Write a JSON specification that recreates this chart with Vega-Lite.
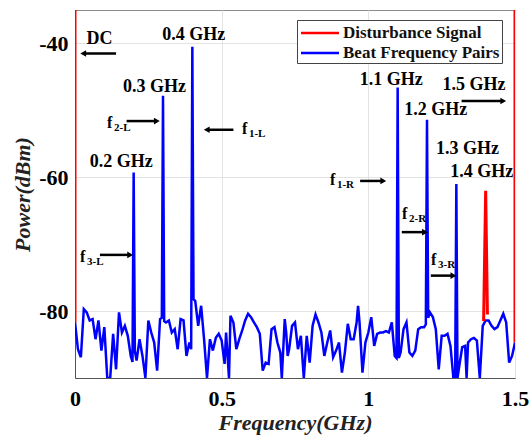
{
  "$schema": "https://vega.github.io/schema/vega-lite/v6.json",
  "width": 440,
  "height": 368,
  "autosize": "none",
  "padding": {"left": 75, "top": 10, "right": 15, "bottom": 63},
  "background": "white",
  "config": {
    "view": {"stroke": "#8c8c8c", "strokeWidth": 1},
    "font": "Liberation Serif",
    "axis": {
      "labelFont": "Liberation Serif", "labelFontWeight": "bold", "labelFontSize": 22, "labelColor": "#000",
      "titleFont": "Liberation Serif", "titleFontWeight": "bold", "titleFontStyle": "italic", "titleFontSize": 22, "titleColor": "#222",
      "domainColor": "#555", "gridColor": "#e3e3e3", "ticks": false, "labelFlush": false
    },
    "legend": {
      "orient": "none", "legendX": 222, "legendY": 10,
      "fillColor": "white", "strokeColor": "#444", "padding": 2,
      "symbolType": "M-2,0H2", "symbolSize": 361, "symbolStrokeWidth": 2.5, "symbolOffset": 10,
      "labelFont": "Liberation Serif", "labelFontWeight": "bold", "labelFontSize": 17, "labelColor": "#111",
      "labelOffset": 12, "rowPadding": 1, "title": null
    }
  },
  "datasets": {
    "spectrum": [
      {"f": 0.00, "p": -81.7, "s": "Beat Frequency Pairs", "g": "b"},
      {"f": 0.01, "p": -85.7, "s": "Beat Frequency Pairs", "g": "b"},
      {"f": 0.02, "p": -86.9, "s": "Beat Frequency Pairs", "g": "b"},
      {"f": 0.03, "p": -79.7, "s": "Beat Frequency Pairs", "g": "b"},
      {"f": 0.04, "p": -80.2, "s": "Beat Frequency Pairs", "g": "b"},
      {"f": 0.05, "p": -81.4, "s": "Beat Frequency Pairs", "g": "b"},
      {"f": 0.06, "p": -81.2, "s": "Beat Frequency Pairs", "g": "b"},
      {"f": 0.07, "p": -84.2, "s": "Beat Frequency Pairs", "g": "b"},
      {"f": 0.08, "p": -81.4, "s": "Beat Frequency Pairs", "g": "b"},
      {"f": 0.09, "p": -85.9, "s": "Beat Frequency Pairs", "g": "b"},
      {"f": 0.10, "p": -82.4, "s": "Beat Frequency Pairs", "g": "b"},
      {"f": 0.11, "p": -90, "s": "Beat Frequency Pairs", "g": "b"},
      {"f": 0.12, "p": -90, "s": "Beat Frequency Pairs", "g": "b"},
      {"f": 0.13, "p": -83.4, "s": "Beat Frequency Pairs", "g": "b"},
      {"f": 0.14, "p": -88.7, "s": "Beat Frequency Pairs", "g": "b"},
      {"f": 0.15, "p": -80.2, "s": "Beat Frequency Pairs", "g": "b"},
      {"f": 0.16, "p": -83.2, "s": "Beat Frequency Pairs", "g": "b"},
      {"f": 0.17, "p": -82.2, "s": "Beat Frequency Pairs", "g": "b"},
      {"f": 0.18, "p": -83.7, "s": "Beat Frequency Pairs", "g": "b"},
      {"f": 0.19, "p": -86.7, "s": "Beat Frequency Pairs", "g": "b"},
      {"f": 0.196, "p": -87.6, "s": "Beat Frequency Pairs", "g": "b"},
      {"f": 0.2, "p": -59.3, "s": "Beat Frequency Pairs", "g": "b"},
      {"f": 0.204, "p": -86.0, "s": "Beat Frequency Pairs", "g": "b"},
      {"f": 0.21, "p": -87.4, "s": "Beat Frequency Pairs", "g": "b"},
      {"f": 0.22, "p": -84.2, "s": "Beat Frequency Pairs", "g": "b"},
      {"f": 0.23, "p": -86.7, "s": "Beat Frequency Pairs", "g": "b"},
      {"f": 0.24, "p": -90, "s": "Beat Frequency Pairs", "g": "b"},
      {"f": 0.25, "p": -81.4, "s": "Beat Frequency Pairs", "g": "b"},
      {"f": 0.26, "p": -83.2, "s": "Beat Frequency Pairs", "g": "b"},
      {"f": 0.27, "p": -84.7, "s": "Beat Frequency Pairs", "g": "b"},
      {"f": 0.28, "p": -88.9, "s": "Beat Frequency Pairs", "g": "b"},
      {"f": 0.29, "p": -81.2, "s": "Beat Frequency Pairs", "g": "b"},
      {"f": 0.296, "p": -81.0, "s": "Beat Frequency Pairs", "g": "b"},
      {"f": 0.3, "p": -47.8, "s": "Beat Frequency Pairs", "g": "b"},
      {"f": 0.304, "p": -81.5, "s": "Beat Frequency Pairs", "g": "b"},
      {"f": 0.31, "p": -81.7, "s": "Beat Frequency Pairs", "g": "b"},
      {"f": 0.32, "p": -81.4, "s": "Beat Frequency Pairs", "g": "b"},
      {"f": 0.33, "p": -83.2, "s": "Beat Frequency Pairs", "g": "b"},
      {"f": 0.34, "p": -82.7, "s": "Beat Frequency Pairs", "g": "b"},
      {"f": 0.35, "p": -85.7, "s": "Beat Frequency Pairs", "g": "b"},
      {"f": 0.36, "p": -81.2, "s": "Beat Frequency Pairs", "g": "b"},
      {"f": 0.37, "p": -81.4, "s": "Beat Frequency Pairs", "g": "b"},
      {"f": 0.38, "p": -86.7, "s": "Beat Frequency Pairs", "g": "b"},
      {"f": 0.39, "p": -84.7, "s": "Beat Frequency Pairs", "g": "b"},
      {"f": 0.396, "p": -85.7, "s": "Beat Frequency Pairs", "g": "b"},
      {"f": 0.4, "p": -40.5, "s": "Beat Frequency Pairs", "g": "b"},
      {"f": 0.404, "p": -78.2, "s": "Beat Frequency Pairs", "g": "b"},
      {"f": 0.41, "p": -78.5, "s": "Beat Frequency Pairs", "g": "b"},
      {"f": 0.42, "p": -82.2, "s": "Beat Frequency Pairs", "g": "b"},
      {"f": 0.43, "p": -79.2, "s": "Beat Frequency Pairs", "g": "b"},
      {"f": 0.44, "p": -84.2, "s": "Beat Frequency Pairs", "g": "b"},
      {"f": 0.45, "p": -90, "s": "Beat Frequency Pairs", "g": "b"},
      {"f": 0.46, "p": -84.2, "s": "Beat Frequency Pairs", "g": "b"},
      {"f": 0.47, "p": -85.9, "s": "Beat Frequency Pairs", "g": "b"},
      {"f": 0.48, "p": -84.0, "s": "Beat Frequency Pairs", "g": "b"},
      {"f": 0.49, "p": -83.4, "s": "Beat Frequency Pairs", "g": "b"},
      {"f": 0.50, "p": -84.4, "s": "Beat Frequency Pairs", "g": "b"},
      {"f": 0.51, "p": -87.9, "s": "Beat Frequency Pairs", "g": "b"},
      {"f": 0.515, "p": -83.2, "s": "Beat Frequency Pairs", "g": "b"},
      {"f": 0.525, "p": -90, "s": "Beat Frequency Pairs", "g": "b"},
      {"f": 0.53, "p": -80.7, "s": "Beat Frequency Pairs", "g": "b"},
      {"f": 0.54, "p": -81.7, "s": "Beat Frequency Pairs", "g": "b"},
      {"f": 0.55, "p": -85.7, "s": "Beat Frequency Pairs", "g": "b"},
      {"f": 0.56, "p": -84.2, "s": "Beat Frequency Pairs", "g": "b"},
      {"f": 0.57, "p": -82.9, "s": "Beat Frequency Pairs", "g": "b"},
      {"f": 0.58, "p": -81.4, "s": "Beat Frequency Pairs", "g": "b"},
      {"f": 0.59, "p": -80.4, "s": "Beat Frequency Pairs", "g": "b"},
      {"f": 0.60, "p": -80.9, "s": "Beat Frequency Pairs", "g": "b"},
      {"f": 0.61, "p": -81.7, "s": "Beat Frequency Pairs", "g": "b"},
      {"f": 0.62, "p": -82.4, "s": "Beat Frequency Pairs", "g": "b"},
      {"f": 0.63, "p": -83.4, "s": "Beat Frequency Pairs", "g": "b"},
      {"f": 0.64, "p": -88.9, "s": "Beat Frequency Pairs", "g": "b"},
      {"f": 0.65, "p": -87.7, "s": "Beat Frequency Pairs", "g": "b"},
      {"f": 0.66, "p": -87.9, "s": "Beat Frequency Pairs", "g": "b"},
      {"f": 0.67, "p": -82.7, "s": "Beat Frequency Pairs", "g": "b"},
      {"f": 0.68, "p": -82.4, "s": "Beat Frequency Pairs", "g": "b"},
      {"f": 0.69, "p": -84.7, "s": "Beat Frequency Pairs", "g": "b"},
      {"f": 0.70, "p": -86.2, "s": "Beat Frequency Pairs", "g": "b"},
      {"f": 0.705, "p": -90, "s": "Beat Frequency Pairs", "g": "b"},
      {"f": 0.715, "p": -81.2, "s": "Beat Frequency Pairs", "g": "b"},
      {"f": 0.72, "p": -83.2, "s": "Beat Frequency Pairs", "g": "b"},
      {"f": 0.725, "p": -86.7, "s": "Beat Frequency Pairs", "g": "b"},
      {"f": 0.73, "p": -85.7, "s": "Beat Frequency Pairs", "g": "b"},
      {"f": 0.74, "p": -82.2, "s": "Beat Frequency Pairs", "g": "b"},
      {"f": 0.75, "p": -81.7, "s": "Beat Frequency Pairs", "g": "b"},
      {"f": 0.76, "p": -85.7, "s": "Beat Frequency Pairs", "g": "b"},
      {"f": 0.77, "p": -83.7, "s": "Beat Frequency Pairs", "g": "b"},
      {"f": 0.78, "p": -90, "s": "Beat Frequency Pairs", "g": "b"},
      {"f": 0.79, "p": -83.7, "s": "Beat Frequency Pairs", "g": "b"},
      {"f": 0.80, "p": -87.7, "s": "Beat Frequency Pairs", "g": "b"},
      {"f": 0.81, "p": -82.2, "s": "Beat Frequency Pairs", "g": "b"},
      {"f": 0.82, "p": -80.5, "s": "Beat Frequency Pairs", "g": "b"},
      {"f": 0.83, "p": -81.7, "s": "Beat Frequency Pairs", "g": "b"},
      {"f": 0.84, "p": -83.2, "s": "Beat Frequency Pairs", "g": "b"},
      {"f": 0.85, "p": -86.7, "s": "Beat Frequency Pairs", "g": "b"},
      {"f": 0.86, "p": -84.7, "s": "Beat Frequency Pairs", "g": "b"},
      {"f": 0.87, "p": -82.9, "s": "Beat Frequency Pairs", "g": "b"},
      {"f": 0.88, "p": -86.9, "s": "Beat Frequency Pairs", "g": "b"},
      {"f": 0.89, "p": -85.9, "s": "Beat Frequency Pairs", "g": "b"},
      {"f": 0.90, "p": -84.7, "s": "Beat Frequency Pairs", "g": "b"},
      {"f": 0.91, "p": -89.2, "s": "Beat Frequency Pairs", "g": "b"},
      {"f": 0.92, "p": -86.2, "s": "Beat Frequency Pairs", "g": "b"},
      {"f": 0.93, "p": -81.9, "s": "Beat Frequency Pairs", "g": "b"},
      {"f": 0.94, "p": -84.2, "s": "Beat Frequency Pairs", "g": "b"},
      {"f": 0.95, "p": -84.2, "s": "Beat Frequency Pairs", "g": "b"},
      {"f": 0.96, "p": -81.7, "s": "Beat Frequency Pairs", "g": "b"},
      {"f": 0.965, "p": -79.2, "s": "Beat Frequency Pairs", "g": "b"},
      {"f": 0.97, "p": -81.7, "s": "Beat Frequency Pairs", "g": "b"},
      {"f": 0.98, "p": -89.2, "s": "Beat Frequency Pairs", "g": "b"},
      {"f": 0.99, "p": -84.7, "s": "Beat Frequency Pairs", "g": "b"},
      {"f": 1.00, "p": -83.2, "s": "Beat Frequency Pairs", "g": "b"},
      {"f": 1.01, "p": -80.9, "s": "Beat Frequency Pairs", "g": "b"},
      {"f": 1.02, "p": -85.2, "s": "Beat Frequency Pairs", "g": "b"},
      {"f": 1.03, "p": -83.4, "s": "Beat Frequency Pairs", "g": "b"},
      {"f": 1.04, "p": -83.2, "s": "Beat Frequency Pairs", "g": "b"},
      {"f": 1.05, "p": -83.2, "s": "Beat Frequency Pairs", "g": "b"},
      {"f": 1.06, "p": -83.0, "s": "Beat Frequency Pairs", "g": "b"},
      {"f": 1.07, "p": -83.2, "s": "Beat Frequency Pairs", "g": "b"},
      {"f": 1.08, "p": -81.7, "s": "Beat Frequency Pairs", "g": "b"},
      {"f": 1.09, "p": -86.7, "s": "Beat Frequency Pairs", "g": "b"},
      {"f": 1.096, "p": -87.0, "s": "Beat Frequency Pairs", "g": "b"},
      {"f": 1.1, "p": -46.6, "s": "Beat Frequency Pairs", "g": "b"},
      {"f": 1.104, "p": -87.0, "s": "Beat Frequency Pairs", "g": "b"},
      {"f": 1.11, "p": -86.2, "s": "Beat Frequency Pairs", "g": "b"},
      {"f": 1.12, "p": -82.7, "s": "Beat Frequency Pairs", "g": "b"},
      {"f": 1.13, "p": -81.7, "s": "Beat Frequency Pairs", "g": "b"},
      {"f": 1.14, "p": -86.2, "s": "Beat Frequency Pairs", "g": "b"},
      {"f": 1.15, "p": -86.7, "s": "Beat Frequency Pairs", "g": "b"},
      {"f": 1.16, "p": -85.9, "s": "Beat Frequency Pairs", "g": "b"},
      {"f": 1.17, "p": -82.7, "s": "Beat Frequency Pairs", "g": "b"},
      {"f": 1.18, "p": -82.4, "s": "Beat Frequency Pairs", "g": "b"},
      {"f": 1.19, "p": -82.4, "s": "Beat Frequency Pairs", "g": "b"},
      {"f": 1.196, "p": -82.0, "s": "Beat Frequency Pairs", "g": "b"},
      {"f": 1.2, "p": -51.4, "s": "Beat Frequency Pairs", "g": "b"},
      {"f": 1.204, "p": -81.0, "s": "Beat Frequency Pairs", "g": "b"},
      {"f": 1.21, "p": -80.2, "s": "Beat Frequency Pairs", "g": "b"},
      {"f": 1.22, "p": -80.9, "s": "Beat Frequency Pairs", "g": "b"},
      {"f": 1.23, "p": -82.7, "s": "Beat Frequency Pairs", "g": "b"},
      {"f": 1.24, "p": -88.7, "s": "Beat Frequency Pairs", "g": "b"},
      {"f": 1.25, "p": -83.7, "s": "Beat Frequency Pairs", "g": "b"},
      {"f": 1.26, "p": -83.7, "s": "Beat Frequency Pairs", "g": "b"},
      {"f": 1.27, "p": -83.4, "s": "Beat Frequency Pairs", "g": "b"},
      {"f": 1.28, "p": -85.2, "s": "Beat Frequency Pairs", "g": "b"},
      {"f": 1.29, "p": -90, "s": "Beat Frequency Pairs", "g": "b"},
      {"f": 1.296, "p": -90, "s": "Beat Frequency Pairs", "g": "b"},
      {"f": 1.3, "p": -61.0, "s": "Beat Frequency Pairs", "g": "b"},
      {"f": 1.304, "p": -90, "s": "Beat Frequency Pairs", "g": "b"},
      {"f": 1.31, "p": -88.2, "s": "Beat Frequency Pairs", "g": "b"},
      {"f": 1.32, "p": -85.4, "s": "Beat Frequency Pairs", "g": "b"},
      {"f": 1.33, "p": -85.2, "s": "Beat Frequency Pairs", "g": "b"},
      {"f": 1.335, "p": -90, "s": "Beat Frequency Pairs", "g": "b"},
      {"f": 1.34, "p": -84.7, "s": "Beat Frequency Pairs", "g": "b"},
      {"f": 1.35, "p": -84.2, "s": "Beat Frequency Pairs", "g": "b"},
      {"f": 1.36, "p": -84.0, "s": "Beat Frequency Pairs", "g": "b"},
      {"f": 1.37, "p": -84.4, "s": "Beat Frequency Pairs", "g": "b"},
      {"f": 1.38, "p": -90, "s": "Beat Frequency Pairs", "g": "b"},
      {"f": 1.39, "p": -82.2, "s": "Beat Frequency Pairs", "g": "b"},
      {"f": 1.40, "p": -81.4, "s": "Beat Frequency Pairs", "g": "b"},
      {"f": 1.41, "p": -81.4, "s": "Beat Frequency Pairs", "g": "b"},
      {"f": 1.42, "p": -82.2, "s": "Beat Frequency Pairs", "g": "b"},
      {"f": 1.43, "p": -82.7, "s": "Beat Frequency Pairs", "g": "b"},
      {"f": 1.44, "p": -82.4, "s": "Beat Frequency Pairs", "g": "b"},
      {"f": 1.45, "p": -81.4, "s": "Beat Frequency Pairs", "g": "b"},
      {"f": 1.46, "p": -80.4, "s": "Beat Frequency Pairs", "g": "b"},
      {"f": 1.47, "p": -81.7, "s": "Beat Frequency Pairs", "g": "b"},
      {"f": 1.48, "p": -87.7, "s": "Beat Frequency Pairs", "g": "b"},
      {"f": 1.49, "p": -86.7, "s": "Beat Frequency Pairs", "g": "b"},
      {"f": 1.50, "p": -84.7, "s": "Beat Frequency Pairs", "g": "b"},
      {"f": 0.0, "p": -35, "s": "Disturbance Signal", "g": "dc"},
      {"f": 0.0, "p": -81.7, "s": "Disturbance Signal", "g": "dc"},
      {"f": 1.393, "p": -81.5, "s": "Disturbance Signal", "g": "r14"},
      {"f": 1.4, "p": -62.0, "s": "Disturbance Signal", "g": "r14"},
      {"f": 1.406, "p": -80.5, "s": "Disturbance Signal", "g": "r14"},
      {"f": 1.5, "p": -84.7, "s": "Disturbance Signal", "g": "r15"},
      {"f": 1.5, "p": -35, "s": "Disturbance Signal", "g": "r15"}
    ],
    "peaks": [
      {"f": 0.0835, "p": -39.4, "t": "DC"},
      {"f": 0.405, "p": -38.8, "t": "0.4 GHz"},
      {"f": 0.271, "p": -46.5, "t": "0.3 GHz"},
      {"f": 0.1575, "p": -57.7, "t": "0.2 GHz"},
      {"f": 1.0785, "p": -45.5, "t": "1.1 GHz"},
      {"f": 1.23, "p": -49.9, "t": "1.2 GHz"},
      {"f": 1.338, "p": -55.8, "t": "1.3 GHz"},
      {"f": 1.3866, "p": -59.2, "t": "1.4 GHz"},
      {"f": 1.36, "p": -46.2, "t": "1.5 GHz"}
    ],
    "subs": [
      {"f": 0.109, "p": -52.7, "sub": "2-L"},
      {"f": 0.569, "p": -53.6, "sub": "1-L"},
      {"f": 0.017, "p": -72.7, "sub": "3-L"},
      {"f": 0.869, "p": -61.2, "sub": "1-R"},
      {"f": 1.115, "p": -66.3, "sub": "2-R"},
      {"f": 1.214, "p": -73.1, "sub": "3-R"}
    ],
    "arrows": [
      {"x1": 0.14, "x2": 0.028, "p": -41.5},
      {"x1": 0.176, "x2": 0.279, "p": -51.6},
      {"x1": 0.54, "x2": 0.449, "p": -52.9},
      {"x1": 0.085, "x2": 0.188, "p": -71.6},
      {"x1": 1.318, "x2": 1.46, "p": -48.6},
      {"x1": 0.972, "x2": 1.051, "p": -60.55},
      {"x1": 1.114, "x2": 1.193, "p": -68.2},
      {"x1": 1.213, "x2": 1.29, "p": -74.7}
    ]
  },
  "layer": [
    {
      "data": {"name": "spectrum"},
      "transform": [{"filter": "datum.s === 'Beat Frequency Pairs'"}],
      "mark": {"type": "line", "strokeWidth": 2.5, "clip": true},
      "encoding": {
        "x": {"field": "f", "type": "quantitative", "scale": {"domain": [0, 1.5], "nice": false, "zero": false},
              "axis": {"values": [0, 0.5, 1, 1.5], "labelExpr": "'' + datum.value", "title": "Frequency(GHz)", "labelPadding": 10, "titlePadding": 3}},
        "y": {"field": "p", "type": "quantitative", "scale": {"domain": [-90, -35], "nice": false, "zero": false},
              "axis": {"values": [-80, -60, -40], "labelExpr": "'' + datum.value", "title": "Power(dBm)", "labelPadding": 7, "titlePadding": 4}},
        "color": {"field": "s", "type": "nominal",
                  "scale": {"domain": ["Disturbance Signal", "Beat Frequency Pairs"], "range": ["#ff0000", "#0000ff"]}},
        "detail": {"field": "g"},
        "order": {"value": null}
      }
    },
    {
      "data": {"name": "spectrum"},
      "transform": [{"filter": "datum.s === 'Disturbance Signal'"}],
      "mark": {"type": "line", "strokeWidth": 3, "clip": true},
      "encoding": {
        "x": {"field": "f", "type": "quantitative"},
        "y": {"field": "p", "type": "quantitative"},
        "color": {"field": "s", "type": "nominal"},
        "detail": {"field": "g"},
        "order": {"value": null}
      }
    },
    {
      "data": {"name": "arrows"},
      "mark": {"type": "rule", "strokeWidth": 2.5, "color": "black"},
      "encoding": {
        "x": {"field": "x1", "type": "quantitative"},
        "x2": {"field": "x2"},
        "y": {"field": "p", "type": "quantitative"}
      }
    },
    {
      "data": {"name": "arrows"},
      "mark": {"type": "point", "filled": true, "color": "black", "size": 45, "opacity": 1},
      "encoding": {
        "x": {"field": "x2", "type": "quantitative"},
        "y": {"field": "p", "type": "quantitative"},
        "shape": {"condition": {"test": "datum.x2 > datum.x1", "value": "triangle-right"}, "value": "triangle-left"}
      }
    },
    {
      "data": {"name": "peaks"},
      "mark": {"type": "text", "font": "Liberation Serif", "fontWeight": "bold", "fontSize": 18, "align": "center", "baseline": "middle", "color": "black"},
      "encoding": {
        "x": {"field": "f", "type": "quantitative"},
        "y": {"field": "p", "type": "quantitative"},
        "text": {"field": "t"}
      }
    },
    {
      "data": {"name": "subs"},
      "mark": {"type": "text", "font": "Liberation Serif", "fontWeight": "bold", "fontSize": 16, "align": "left", "baseline": "alphabetic", "color": "black"},
      "encoding": {
        "x": {"field": "f", "type": "quantitative"},
        "y": {"field": "p", "type": "quantitative"},
        "text": {"value": "f"}
      }
    },
    {
      "data": {"name": "subs"},
      "mark": {"type": "text", "font": "Liberation Serif", "fontWeight": "bold", "fontSize": 11, "align": "left", "baseline": "alphabetic", "color": "black", "dx": 7, "dy": 3},
      "encoding": {
        "x": {"field": "f", "type": "quantitative"},
        "y": {"field": "p", "type": "quantitative"},
        "text": {"field": "sub"}
      }
    }
  ]
}
